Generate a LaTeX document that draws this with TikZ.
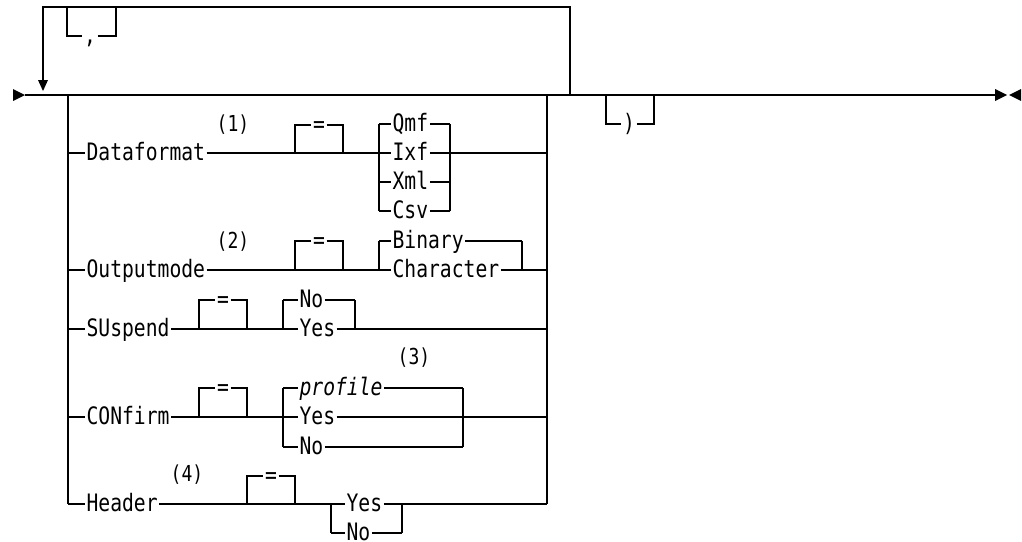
\documentclass[tikz,border=0pt]{standalone}
\usepackage{fontspec}
\newfontfamily\railfont[FakeStretch=0.82]{DejaVu Sans Mono}
\begin{document}
\begin{tikzpicture}[x=1pt,y=-1pt,line width=1.2pt,
	kw/.style={font=\railfont\fontsize{24}{26}\selectfont,inner xsep=1pt,inner ysep=0pt,
		text height=15pt,text depth=0pt,anchor=west},
	sym/.style={kw,anchor=center},
	note/.style={font=\railfont\fontsize{22}{24}\selectfont,inner sep=0pt}]
	\useasboundingbox (0,0) rectangle (1022,541);
	% main line, loop and end marks
	\draw (25,95) -- (995,95);
	\fill (13,89) -- (25,95) -- (13,101) -- cycle;
	\fill (995,89) -- (1007,95) -- (995,101) -- cycle;
	\fill (1021,89) -- (1009,95) -- (1021,101) -- cycle;
	\draw (43,81) -- (43,7) -- (570,7) -- (570,95);
	\fill (38,80) -- (48,80) -- (43,91) -- cycle;
	\node[sym] (comma) at (90,36) {,};
	\draw (67,7) |- (comma.west);
	\draw (comma.east) -| (116,7);
	\node[sym] (close) at (629,124) {)};
	\draw (606,95) |- (close.west);
	\draw (close.east) -| (654,95);
	% choice stack
	\draw (68,95) -- (68,504);
	\draw (547,95) -- (547,504);
	% Dataformat
	\node[kw] (df) at (85,153) {Dataformat};
	\node[note] (n1) at (233,125) {(1)};
	\draw (68,153) -- (df.west);
	\draw (df.east) -- (379,153);
	\node[sym] (dfeq) at (319,125) {=};
	\draw (295,153) |- (dfeq.west);
	\draw (dfeq.east) -| (343,153);
	\draw (379,124) -- (379,211);
	\draw (450,124) -- (450,211);
	\foreach \t/\y [count=\i] in {Qmf/124,Ixf/153,Xml/182,Csv/211}{
		\node[kw] (df\i) at (391,\y) {\t};
		\draw (379,\y) -- (df\i.west);
		\draw (df\i.east) -- (450,\y);
	}
	\draw (450,153) -- (547,153);
	% Outputmode
	\node[kw] (om) at (85,270) {Outputmode};
	\node[note] (n2) at (233,242) {(2)};
	\draw (68,270) -- (om.west);
	\draw (om.east) -- (379,270);
	\node[sym] (omeq) at (319,241) {=};
	\draw (295,270) |- (omeq.west);
	\draw (omeq.east) -| (343,270);
	\draw (379,241) -- (379,270);
	\draw (522,241) -- (522,270);
	\foreach \t/\y [count=\i] in {Binary/241,Character/270}{
		\node[kw] (om\i) at (391,\y) {\t};
		\draw (379,\y) -- (om\i.west);
		\draw (om\i.east) -- (522,\y);
	}
	\draw (522,270) -- (547,270);
	% SUspend
	\node[kw] (su) at (85,329) {SUspend};
	\draw (68,329) -- (su.west);
	\draw (su.east) -- (283,329);
	\node[sym] (sueq) at (223,300) {=};
	\draw (199,329) |- (sueq.west);
	\draw (sueq.east) -| (247,329);
	\draw (283,300) -- (283,329);
	\draw (355,300) -- (355,329);
	\foreach \t/\y [count=\i] in {No/300,Yes/329}{
		\node[kw] (su\i) at (298,\y) {\t};
		\draw (283,\y) -- (su\i.west);
		\draw (su\i.east) -- (355,\y);
	}
	\draw (355,329) -- (547,329);
	% CONfirm
	\node[kw] (cf) at (85,417) {CONfirm};
	\node[note] (n3) at (414,358) {(3)};
	\draw (68,417) -- (cf.west);
	\draw (cf.east) -- (283,417);
	\node[sym] (cfeq) at (223,388) {=};
	\draw (199,417) |- (cfeq.west);
	\draw (cfeq.east) -| (247,417);
	\draw (283,388) -- (283,447);
	\draw (463,388) -- (463,447);
	\foreach \t/\y [count=\i] in {\itshape profile/388,Yes/417,No/447}{
		\node[kw] (cf\i) at (298,\y) {\t};
		\draw (283,\y) -- (cf\i.west);
		\draw (cf\i.east) -- (463,\y);
	}
	\draw (463,417) -- (547,417);
	% Header
	\node[kw] (hd) at (85,504) {Header};
	\node[note] (n4) at (187,475) {(4)};
	\draw (68,504) -- (hd.west);
	\draw (hd.east) -- (331,504);
	\node[sym] (hdeq) at (271,476) {=};
	\draw (247,504) |- (hdeq.west);
	\draw (hdeq.east) -| (295,504);
	\draw (331,504) -- (331,533);
	\draw (402,504) -- (402,533);
	\foreach \t/\y [count=\i] in {Yes/504,No/533}{
		\node[kw] (hd\i) at (345,\y) {\t};
		\draw (331,\y) -- (hd\i.west);
		\draw (hd\i.east) -- (402,\y);
	}
	\draw (402,504) -- (547,504);
\end{tikzpicture}
\end{document}
